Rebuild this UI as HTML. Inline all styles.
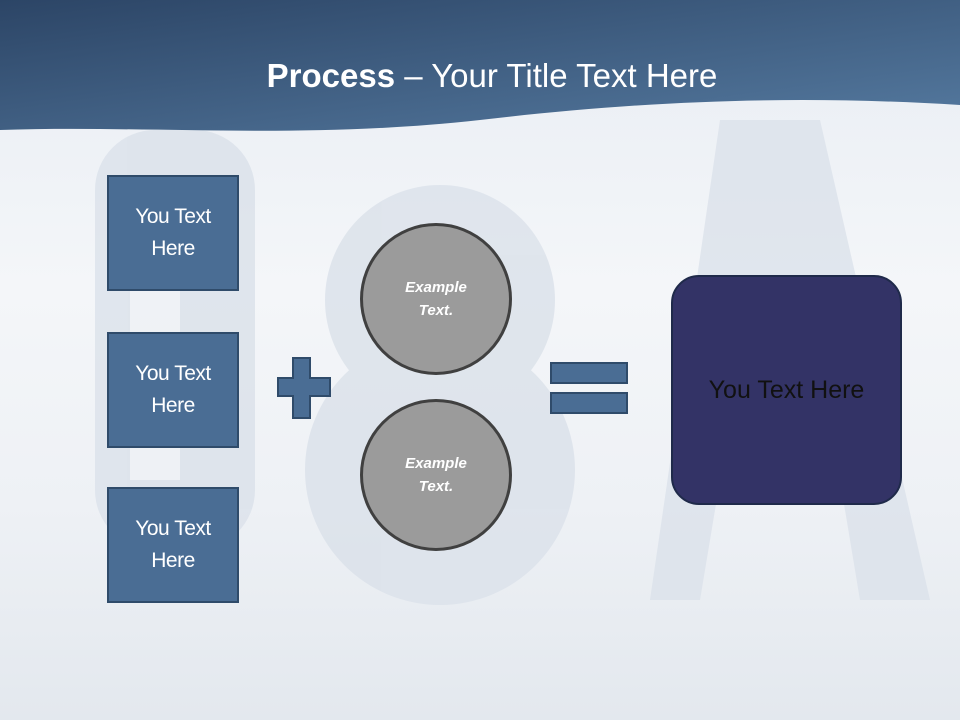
<!DOCTYPE html>
<html><head><style>
body{margin:0;width:960px;height:720px;overflow:hidden;font-family:"Liberation Sans",sans-serif;position:relative;background:linear-gradient(#e8edf3,#f4f6f9 40%,#eef1f5 70%,#e3e8ee)}
.b{position:absolute;left:107px;width:128px;height:112px;background:#4a6d94;border:2px solid #2f4b6a;color:#fff;font-size:21px;line-height:32px;display:flex;align-items:center;justify-content:center;text-align:center;letter-spacing:-0.5px}
.c{position:absolute;left:360px;width:146px;height:146px;border-radius:50%;background:#9b9b9b;border:3px solid #404040;color:#fff;font-weight:bold;font-style:italic;font-size:15px;line-height:23px;display:flex;align-items:center;justify-content:center;text-align:center}
.p{position:absolute;background:#4a6d94;border:2px solid #2f4b6a}
</style></head><body>
<svg width="960" height="720" style="position:absolute;left:0;top:0">
<defs><linearGradient id="g" x1="0" y1="0" x2="1" y2="1"><stop offset="0" stop-color="#2c4566"/><stop offset="1" stop-color="#557aa0"/></linearGradient></defs>
<g fill="#d9e0e9" opacity="0.75">
<rect x="95" y="130" width="160" height="420" rx="60"/>
<rect x="130" y="180" width="50" height="300" fill="#eef1f5"/>
<path d="M720 120 L820 120 L930 600 L860 600 L840 480 L720 480 L700 600 L650 600 Z"/>
<circle cx="440" cy="300" r="115"/><circle cx="440" cy="470" r="135"/>
</g>
<path d="M0 0 H960 V105 C800 95 650 100 480 120 C300 140 150 125 0 130 Z" fill="url(#g)"/>
<text x="492" y="87" fill="#fff" font-size="33" text-anchor="middle" font-family="Liberation Sans"><tspan font-weight="bold">Process</tspan> – Your Title Text Here</text>
<path d="M293 358 H310 V378 H330 V396 H310 V418 H293 V396 H278 V378 H293 Z" fill="#4a6d94" stroke="#2f4b6a" stroke-width="2"/>
</svg>
<div class="b" style="top:175px">You Text<br>Here</div>
<div class="b" style="top:332px">You Text<br>Here</div>
<div class="b" style="top:487px">You Text<br>Here</div>
<div class="p" style="left:550px;top:362px;width:74px;height:18px"></div>
<div class="p" style="left:550px;top:392px;width:74px;height:18px"></div>
<div class="c" style="top:223px">Example<br>Text.</div>
<div class="c" style="top:399px">Example<br>Text.</div>
<div style="position:absolute;left:671px;top:275px;width:227px;height:226px;border-radius:28px;background:#333366;border:2px solid #1f2a4a;display:flex;align-items:center;justify-content:center;font-size:25px;color:#111">You Text Here</div>
</body></html>
